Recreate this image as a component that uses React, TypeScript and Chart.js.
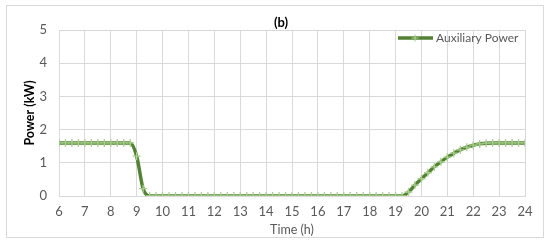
import React, { useEffect, useRef } from "react";
import { Chart, registerables } from "chart.js";

Chart.register(...registerables);

const hours = [
  6, 6.25, 6.5, 6.75, 7, 7.25, 7.5, 7.75, 8, 8.25, 8.5, 8.75,
  9, 9.25, 9.5, 9.75, 10, 10.25, 10.5, 10.75, 11, 11.25, 11.5, 11.75,
  12, 12.25, 12.5, 12.75, 13, 13.25, 13.5, 13.75, 14, 14.25, 14.5, 14.75,
  15, 15.25, 15.5, 15.75, 16, 16.25, 16.5, 16.75, 17, 17.25, 17.5, 17.75,
  18, 18.25, 18.5, 18.75, 19, 19.25, 19.5, 19.75, 20, 20.25, 20.5, 20.75,
  21, 21.25, 21.5, 21.75, 22, 22.25, 22.5, 22.75, 23, 23.25, 23.5, 23.75, 24,
];

const auxiliaryPower = [
  1.6, 1.6, 1.6, 1.6, 1.6, 1.6, 1.6, 1.6, 1.6, 1.6, 1.6, 1.6,
  1.2, 0.22, 0, 0, 0, 0, 0, 0, 0, 0, 0, 0,
  0, 0, 0, 0, 0, 0, 0, 0, 0, 0, 0, 0,
  0, 0, 0, 0, 0, 0, 0, 0, 0, 0, 0, 0,
  0, 0, 0, 0, 0, 0, 0.12, 0.33, 0.52, 0.7, 0.88, 1.03,
  1.17, 1.29, 1.39, 1.47, 1.53, 1.57, 1.59, 1.6, 1.6, 1.6, 1.6, 1.6, 1.6,
];

const seriesLabel = "Auxiliary Power";
const chartTitle = "(b)";
const xTitle = "Time (h)";
const yTitle = "Power (kW)";

const FONT = "Lato, 'Open Sans', sans-serif";
const TEXT = "#595959";
const GRID = "#d9d9d9";
const LINE = "#548235";
const MARK = "#a9d18e";

const decorPlugin = {
  id: "decor",
  beforeDraw(chart: any) {
    const ctx = chart.ctx;
    ctx.save();
    ctx.fillStyle = "#ffffff";
    ctx.fillRect(0, 0, chart.width, chart.height);
    ctx.strokeStyle = GRID;
    ctx.lineWidth = 1;
    ctx.strokeRect(6.5, 5.5, 537, 232);
    ctx.restore();
  },
  afterDraw(chart: any) {
    const ctx = chart.ctx;
    ctx.save();
    ctx.fillStyle = "#000000";
    ctx.font = `bold 13px ${FONT}`;
    ctx.textAlign = "center";
    ctx.textBaseline = "middle";
    ctx.fillText(chartTitle, 281, 23);
    ctx.strokeStyle = LINE;
    ctx.lineWidth = 3.5;
    ctx.beginPath();
    ctx.moveTo(398, 38);
    ctx.lineTo(433, 38);
    ctx.stroke();
    ctx.strokeStyle = MARK;
    ctx.lineWidth = 1.2;
    ctx.beginPath();
    ctx.moveTo(411.5, 38);
    ctx.lineTo(418.5, 38);
    ctx.moveTo(415, 34.5);
    ctx.lineTo(415, 41.5);
    ctx.stroke();
    ctx.fillStyle = TEXT;
    ctx.font = `12px ${FONT}`;
    ctx.textAlign = "left";
    ctx.fillText(seriesLabel, 436, 38);
    ctx.restore();
  },
};

export default function App() {
  const ref = useRef<HTMLCanvasElement | null>(null);
  useEffect(() => {
    if (!ref.current) return;
    const chart = new Chart(ref.current, {
      type: "line",
      data: {
        datasets: [
          {
            label: seriesLabel,
            data: hours.map((h, i) => ({ x: h, y: auxiliaryPower[i] })),
            borderColor: LINE,
            borderWidth: 3.5,
            cubicInterpolationMode: "monotone",
            pointStyle: "cross",
            pointRadius: 4,
            pointBorderColor: MARK,
            pointBorderWidth: 1.3,
            pointBackgroundColor: MARK,
          },
        ],
      },
      options: {
        animation: false,
        responsive: true,
        maintainAspectRatio: false,
        layout: { padding: { top: 30, right: 25, left: 0, bottom: 0 } },
        plugins: {
          legend: { display: false },
          title: { display: false },
          tooltip: { enabled: false },
        },
        scales: {
          x: {
            type: "linear",
            min: 6,
            max: 24,
            afterFit: (s: any) => {
              s.height = 49;
            },
            ticks: {
              stepSize: 1,
              color: TEXT,
              font: { family: FONT, size: 13 },
              padding: 8,
              maxRotation: 0,
            },
            grid: { color: GRID, drawTicks: false },
            border: { color: GRID },
            title: {
              display: true,
              text: xTitle,
              color: TEXT,
              font: { family: FONT, size: 12.5 },
              padding: { top: 0, bottom: 8 },
            },
          },
          y: {
            min: 0,
            max: 5,
            afterFit: (s: any) => {
              s.width = 59;
            },
            ticks: {
              stepSize: 1,
              color: TEXT,
              font: { family: FONT, size: 13 },
              padding: 12,
            },
            grid: { color: GRID, drawTicks: false },
            border: { color: GRID },
            title: {
              display: true,
              text: yTitle,
              color: "#000000",
              font: { family: FONT, size: 12.5, weight: "bold" },
              padding: { top: 22, bottom: 0 },
            },
          },
        },
      },
      plugins: [decorPlugin],
    });
    return () => chart.destroy();
  }, []);
  return (
    <div style={{ position: "absolute", left: 0, top: 0, width: 550, height: 245 }}>
      <canvas ref={ref} />
    </div>
  );
}
